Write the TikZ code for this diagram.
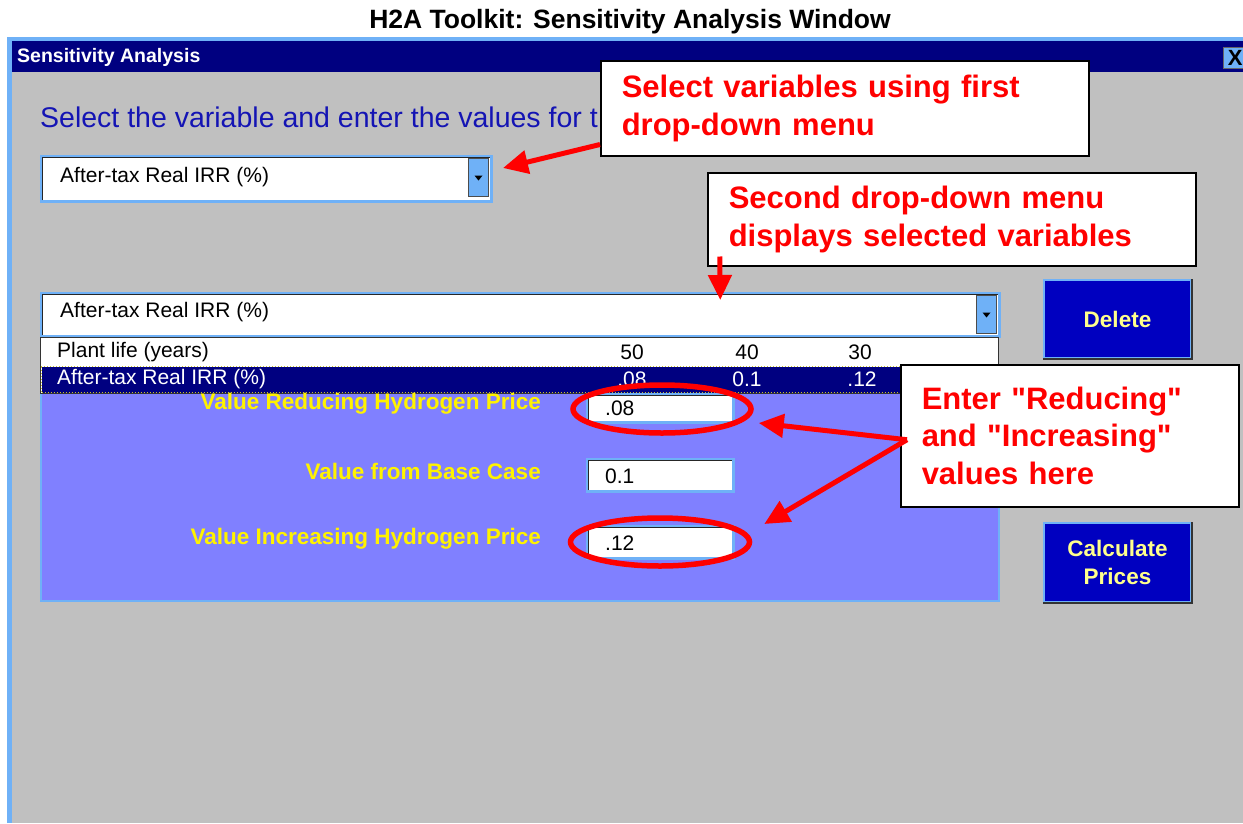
\documentclass[tikz,border=0pt]{standalone}
\usepackage{fontspec}
\setmainfont{Liberation Sans}
\usetikzlibrary{arrows.meta,positioning,shapes.geometric}
\definecolor{winnavy}{HTML}{000080}
\definecolor{wingray}{HTML}{C0C0C0}
\definecolor{winedge}{HTML}{6FB1F7}
\definecolor{btnblue}{HTML}{0000C0}
\definecolor{btntext}{HTML}{FFFF8C}
\definecolor{panelblue}{HTML}{8080FF}
\definecolor{cuered}{HTML}{FF0000}
\definecolor{prompt}{HTML}{1414B4}
\tikzset{%
note/.style={draw=black, line width=1.5pt, fill=white, anchor=north west, inner xsep=21pt, inner ysep=0pt,
  text=cuered, align=left, font=\bfseries\fontsize{31}{37.5}\selectfont},
cue/.style={draw=cuered, line width=5pt, -{Triangle[length=25pt,width=23pt]}},
ring/.style={ellipse, draw=cuered, line width=5.5pt, inner sep=0pt},
field/.style={draw=winedge, line width=2.5pt, fill=white, anchor=north west, inner sep=0pt},
dropbtn/.style={draw=black!70, line width=1pt, fill=winedge, minimum width=20pt, minimum height=38pt, anchor=north west, inner sep=0pt},
uitext/.style={font=\fontsize{21}{25}\selectfont, anchor=west, inner sep=0pt},
numtext/.style={font=\fontsize{21}{25}\selectfont, inner sep=0pt},
valuelabel/.style={font=\bfseries\fontsize{22.5}{26}\selectfont, text=yellow, anchor=east, inner sep=0pt},
winbutton/.style={draw=winedge, line width=2pt, fill=btnblue, text=btntext, align=center, anchor=north west,
  font=\bfseries\fontsize{22.5}{28}\selectfont, minimum width=147pt}
}
\newcommand{\insetedge}[1]{\draw[black!85, line width=1.5pt] ([xshift=2.5pt,yshift=2.5pt]#1.south west) |- ([xshift=-2.5pt,yshift=-2.5pt]#1.north east);}
\newcommand{\droparrow}[1]{\fill[black] (#1.center) ++(-4,-2) -- ++(8,0) -- ++(-4,5) -- cycle;}
\newcommand{\shadeedge}[1]{\draw[black!80, line width=2pt] (#1.south west) -| (#1.north east);}

\begin{document}
\begin{tikzpicture}[x=1pt,y=-1pt]
\useasboundingbox (0,0) rectangle (1243,823);
\fill[white] (0,0) rectangle (1243,823);
\node[font=\bfseries\fontsize{26.5}{30}\selectfont] (title) at (630,22) {H2A Toolkit: Sensitivity Analysis Window};

% window frame
\fill[winedge] (7,37) rectangle (1243,823);
\fill[winnavy] (12,41) rectangle (1243,72);
\fill[wingray] (12,72) rectangle (1243,823);
\node[uitext, font=\bfseries\fontsize{19.5}{22}\selectfont, text=white] (wintitle) at (17,57) {Sensitivity Analysis};
\node[draw=black!60, fill=winedge, minimum width=26pt, minimum height=21pt, inner sep=0pt, anchor=north west,
  font=\bfseries\fontsize{22}{22}\selectfont] (closebtn) at (1223,47) {\hspace*{-2pt}X};

\node[uitext, text=prompt, font=\fontsize{28.5}{32}\selectfont] (prompt) at (40,117) {Select the variable and enter the values for t};

% first combo
\node[field, minimum width=450pt, minimum height=45pt] (combo1) at (40,155) {};
\insetedge{combo1}
\node[uitext] (combo1text) at (60,177) {After-tax Real IRR (\%)};
\node[dropbtn] (drop1) at (468,158) {};
\droparrow{drop1}

% second combo and list
\node[field, minimum width=958pt, minimum height=43pt] (combo2) at (40,292) {};
\insetedge{combo2}
\node[uitext] (combo2text) at (60,312) {After-tax Real IRR (\%)};
\node[dropbtn] (drop2) at (976,295) {};
\droparrow{drop2}

\node[fill=panelblue, draw=winedge, line width=2pt, minimum width=958pt, minimum height=208pt, anchor=north west] (panel) at (40,392) {};
\node[draw=black!80, line width=1pt, fill=white, minimum width=958pt, minimum height=56pt, anchor=north west, inner sep=0pt] (varlist) at (40,337) {};
\node[fill=winnavy, draw=yellow!75!black, dotted, line width=1pt, minimum width=956pt, minimum height=26pt, anchor=north west, inner sep=0pt] (selrow) at (41,366) {};

\node[uitext] (row1) at (57,352) {Plant life (years)};
\node[numtext] (r1a) at (632,352) {50};
\node[numtext] (r1b) at (747,352) {40};
\node[numtext] (r1c) at (860,352) {30};
\node[uitext, text=white] (row2) at (57,379) {After-tax Real IRR (\%)};
\node[numtext, text=white] (r2a) at (632,379) {.08};
\node[numtext, text=white] (r2b) at (747,379) {0.1};
\node[numtext, text=white] (r2c) at (862,379) {.12};

% value fields
\node[valuelabel] (lowlabel) at (541,404) {Value Reducing Hydrogen Price};
\node[valuelabel] (baselabel) at (541,471) {Value from Base Case};
\node[valuelabel] (highlabel) at (541,539) {Value Increasing Hydrogen Price};
\node[field, minimum width=146pt, minimum height=28pt] (lowbox) at (586,393) {};
\node[field, minimum width=146pt, minimum height=32pt] (basebox) at (586,458) {};
\node[field, minimum width=146pt, minimum height=32pt] (highbox) at (586,525) {};
\insetedge{lowbox}
\insetedge{basebox}
\insetedge{highbox}
\node[uitext] (lowval) at (605,408) {.08};
\node[uitext] (baseval) at (605,476) {0.1};
\node[uitext] (highval) at (605,543) {.12};

% buttons
\node[winbutton, minimum height=78pt] (delbtn) at (1043,279) {Delete};
\shadeedge{delbtn}
\node[winbutton, minimum height=79pt] (calcbtn) at (1043,522) {Calculate\\Prices};
\shadeedge{calcbtn}

% callouts
\node[ring, minimum width=178pt, minimum height=48pt] (lowring) at (662,409) {};
\node[ring, minimum width=179pt, minimum height=48pt] (highring) at (660,542) {};
\node[note, minimum width=488pt, minimum height=95pt, text width=446pt] (selnote) at (600,60) {Select variables using first\\drop-down menu};
\node[note, minimum width=488pt, minimum height=93pt, text width=446pt] (shownote) at (707,172) {Second drop-down menu\\displays selected variables};
\node[note, minimum width=338pt, minimum height=142pt, text width=296pt] (enternote) at (900,364)
  {Enter \textquotedbl Reducing\textquotedbl\\and \textquotedbl Increasing\textquotedbl\\values here};

\coordinate (firsttip) at (503,168);
\draw[cue] ([yshift=12pt]selnote.south west) -- (firsttip);
\draw[cue] ([xshift=-232pt,yshift=10pt]shownote.south) -- ([xshift=200pt,yshift=-8pt]combo2.north);
\draw[cue] ([xshift=7pt,yshift=-4pt]enternote.west) -- ([xshift=5pt,yshift=-14pt]lowring.east);
\draw[cue] ([xshift=7pt,yshift=-4pt]enternote.west) -- ([xshift=12pt,yshift=18pt]highring.east);
\end{tikzpicture}
\end{document}
